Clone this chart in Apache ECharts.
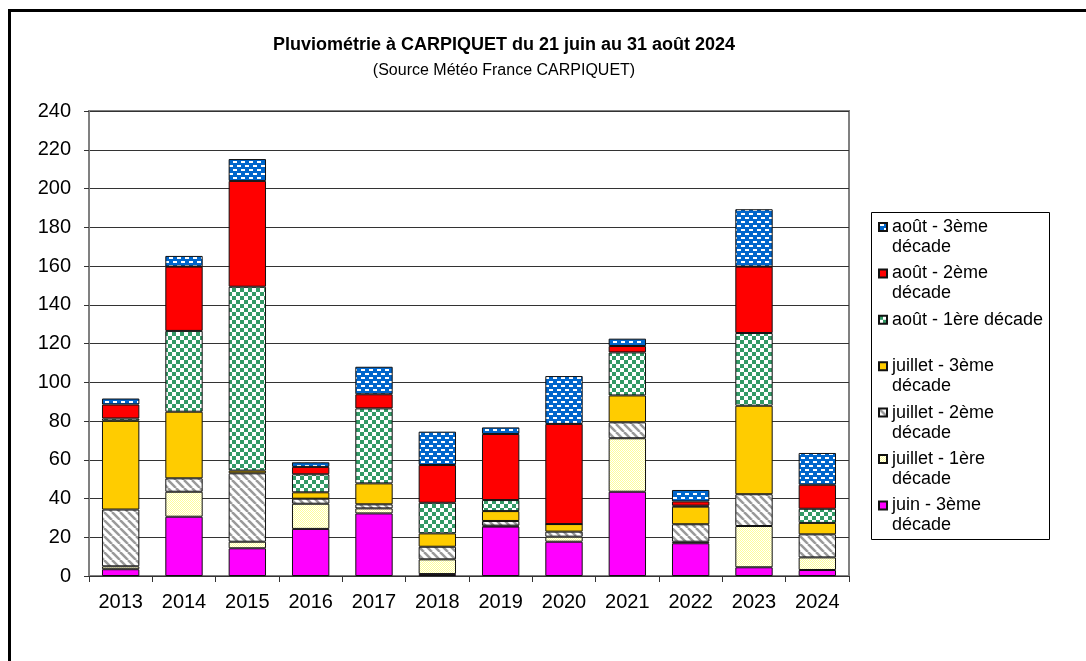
<!DOCTYPE html>
<html>
<head>
<meta charset="utf-8">
<script src="https://cdn.jsdelivr.net/npm/echarts@6/dist/echarts.min.js"></script>
<style>
  html, body { margin: 0; padding: 0; background: #fff; }
  #main { width: 1086px; height: 661px; }
</style>
</head>
<body>
<div id="main"></div>
<script>
// années et hauteurs de pluie (mm) par décade
var years = ['2013', '2014', '2015', '2016', '2017', '2018', '2019', '2020', '2021', '2022', '2023', '2024'];
var juin3 = [3.5, 30.6, 14.3, 24.3, 32.3, 1.0, 25.5, 17.7, 43.5, 16.9, 4.5, 3.1];
var juil1 = [1.5, 12.9, 3.4, 13.0, 2.6, 7.6, 0.5, 2.6, 27.6, 0.8, 21.3, 6.5];
var juil2 = [29.3, 6.9, 35.3, 2.6, 2.1, 6.5, 2.4, 2.6, 8.2, 9.0, 16.4, 11.9];
var juil3 = [45.8, 34.4, 1.4, 3.3, 10.8, 6.9, 5.1, 3.9, 13.9, 9.1, 45.7, 5.9];
var aout1 = [1.2, 41.7, 94.9, 9.3, 38.7, 15.8, 5.7, 0, 22.2, 0.5, 37.5, 7.3];
var aout2 = [7.2, 33.2, 54.6, 3.8, 7.3, 19.5, 34.1, 51.7, 3.3, 2.2, 34.3, 12.4];
var aout3 = [3.1, 5.5, 11.3, 2.4, 14.2, 17.2, 3.4, 24.7, 3.8, 5.9, 29.6, 16.4];
var yTicks = [0, 20, 40, 60, 80, 100, 120, 140, 160, 180, 200, 220, 240];

var FONT = '"Liberation Sans", Arial, sans-serif';

// motifs de remplissage (style Excel)
function makePattern(size, draw) {
    var c = document.createElement('canvas');
    c.width = size; c.height = size;
    draw(c.getContext('2d'));
    return { image: c, repeat: 'repeat' };
}
var patYellow = makePattern(2, function (g) {
    g.fillStyle = '#ffffff'; g.fillRect(0, 0, 2, 2);
    g.fillStyle = '#ffff99'; g.fillRect(0, 0, 1, 1); g.fillRect(1, 1, 1, 1);
});
var patHatch = makePattern(8, function (g) {
    g.fillStyle = '#ffffff'; g.fillRect(0, 0, 8, 8);
    g.strokeStyle = '#999999'; g.lineWidth = 2.5;
    for (var k = -8; k <= 16; k += 8) {
        g.beginPath(); g.moveTo(k, 0); g.lineTo(k + 8, 8); g.stroke();
    }
});
var patGreen = makePattern(8, function (g) {
    g.fillStyle = '#ffffff'; g.fillRect(0, 0, 8, 8);
    g.fillStyle = '#339966'; g.fillRect(0, 0, 4, 4); g.fillRect(4, 4, 4, 4);
});
var patBlue = makePattern(8, function (g) {
    g.fillStyle = '#0066cc'; g.fillRect(0, 0, 8, 8);
    g.fillStyle = '#ffffff'; g.fillRect(1, 1, 4, 2); g.fillRect(5, 5, 3, 2); g.fillRect(0, 5, 1, 2);
});

var legendText = {
    'août - 3ème décade': 'août - 3ème\ndécade',
    'août - 2ème décade': 'août - 2ème\ndécade',
    'août - 1ère décade': 'août - 1ère décade\n\u00a0',
    'juillet - 3ème décade': 'juillet - 3ème\ndécade',
    'juillet - 2ème décade': 'juillet - 2ème\ndécade',
    'juillet - 1ère décade': 'juillet - 1ère\ndécade',
    'juin - 3ème décade': 'juin - 3ème\ndécade'
};

function bar(name, data, color) {
    return {
        name: name,
        type: 'bar',
        stack: 'pluie',
        barWidth: '59%',
        data: data,
        itemStyle: { color: color, borderColor: '#111', borderWidth: 1 }
    };
}

var myChart = echarts.init(document.getElementById('main'), null, { renderer: 'canvas' });
var option = {
    animation: false,
    backgroundColor: '#fff',
    textStyle: { fontFamily: FONT },
    grid: { left: 89, right: 237, top: 111, bottom: 85, show: true, borderColor: '#808080', borderWidth: 2 },
    graphic: [
        { type: 'rect', shape: { x: 9.5, y: 10.5, width: 1200, height: 800 }, style: { fill: null, stroke: '#000', lineWidth: 3 }, silent: true },
        { type: 'rect', shape: { x: 871.5, y: 212.5, width: 178, height: 327 }, style: { fill: null, stroke: '#000', lineWidth: 1 }, silent: true },
        { type: 'text', x: 504, y: 45, style: { text: 'Pluviométrie à CARPIQUET du 21 juin au 31 août 2024', fontFamily: FONT, fontSize: 18, fontWeight: 'bold', fill: '#000', align: 'center', verticalAlign: 'middle' } },
        { type: 'text', x: 504, y: 71, style: { text: '(Source Météo France CARPIQUET)', fontFamily: FONT, fontSize: 16, fill: '#000', align: 'center', verticalAlign: 'middle' } }
    ],
    legend: {
        orient: 'vertical',
        left: 878,
        top: 217,
        padding: 0,
        itemWidth: 8,
        itemHeight: 28,
        itemGap: 6.4,
        // carré en haut de la case pour s'aligner sur la 1re ligne du texte
        icon: 'path://M0,0H8V8H0Z M0,28',
        data: ['août - 3ème décade', 'août - 2ème décade', 'août - 1ère décade', 'juillet - 3ème décade',
               'juillet - 2ème décade', 'juillet - 1ère décade', 'juin - 3ème décade'],
        formatter: function (name) { return legendText[name]; },
        textStyle: { fontFamily: FONT, fontSize: 18, color: '#000', lineHeight: 20 }
    },
    xAxis: {
        type: 'category',
        data: years,
        axisLine: { lineStyle: { color: '#333', width: 1 } },
        axisTick: { show: true, length: 6, lineStyle: { color: '#333' } },
        axisLabel: { color: '#000', fontSize: 20, fontFamily: FONT, margin: 16 }
    },
    yAxis: {
        type: 'value',
        min: 0,
        max: 240,
        interval: 20,
        axisLine: { show: true, lineStyle: { color: '#808080', width: 2 } },
        axisTick: { show: true, length: 5, lineStyle: { color: '#333' } },
        axisLabel: {
            color: '#000', fontSize: 20, fontFamily: FONT, margin: 18,
            formatter: function (v) { return yTicks.indexOf(v) >= 0 ? String(v) : ''; }
        },
        splitLine: { show: true, lineStyle: { color: '#333', width: 1 } }
    },
    series: [
        bar('juin - 3ème décade', juin3, '#ff00ff'),
        bar('juillet - 1ère décade', juil1, patYellow),
        bar('juillet - 2ème décade', juil2, patHatch),
        bar('juillet - 3ème décade', juil3, '#ffcc00'),
        bar('août - 1ère décade', aout1, patGreen),
        bar('août - 2ème décade', aout2, '#ff0000'),
        bar('août - 3ème décade', aout3, patBlue)
    ]
};
myChart.setOption(option);
</script>
</body>
</html>
